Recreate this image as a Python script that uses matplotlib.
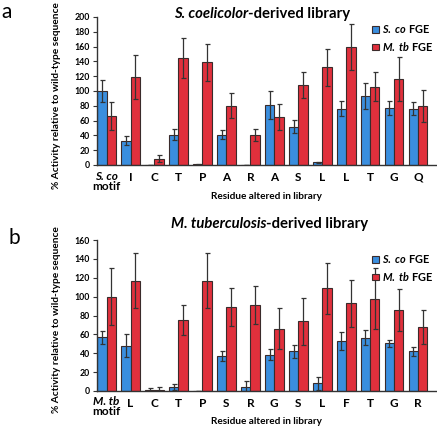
import matplotlib
matplotlib.use("Agg")
import matplotlib.pyplot as plt
import matplotlib.patches as mpatches
import numpy as np

plt.rcParams['font.family'] = ['Lato', 'DejaVu Sans']
plt.rcParams['font.weight'] = 'bold'
plt.rcParams['mathtext.fontset'] = 'custom'
plt.rcParams['mathtext.it'] = 'Lato:italic:bold'
plt.rcParams['mathtext.rm'] = 'Lato:bold'
plt.rcParams['mathtext.bf'] = 'Lato:bold'

# panel a: S. coelicolor-derived library
catsA = ["", "I", "C", "T", "P", "A", "R", "A", "S", "L", "L", "T", "G", "Q"]
scoA = [100, 33, 0.5, 41, 1, 41, 0.5, 81, 52, 3.5, 76, 93, 77, 76]
scoErrA = [15, 6, 0, 7, 1, 6, 0, 19, 9, 1, 10, 18, 9, 9]
mtbA = [66.5, 119, 8.5, 145, 139, 80, 40, 65, 108, 132, 159, 106, 116, 80]
mtbErrA = [19, 30, 5, 27, 25, 17, 8, 18, 17, 25, 31, 20, 30, 22]

# panel b: M. tuberculosis-derived library
catsB = ["", "L", "C", "T", "P", "S", "R", "G", "S", "L", "F", "T", "G", "R"]
scoB = [57, 48, 1, 4, 0, 37, 4, 38.5, 42, 8, 53, 56.5, 50.5, 42]
scoErrB = [7, 12, 2, 3, 0, 5, 7, 6, 7, 7, 10, 8, 3.5, 5]
mtbB = [100, 117, 1, 75, 117, 89, 91, 66, 74, 109, 93, 98, 86, 68]
mtbErrB = [30, 29, 3, 16, 29, 20, 20, 22, 25, 27, 25, 32, 22.5, 18]

blue = "#3a8ede"
red = "#e0303c"
edge = "#3a2b2b"

W, H = 437, 426
fig = plt.figure(figsize=(W / 100, H / 100), dpi=100)


def drawPanel(rect, cats, sco, scoErr, mtb, mtbErr, ymax, firstLabel, titleStart, titleRest,
              titleX, titleY, legXY, letter, letterXY, labOff, xlabY):
    ax = fig.add_axes([rect[0] / W, 1 - rect[3] / H, (rect[2] - rect[0]) / W, (rect[3] - rect[1]) / H])
    x = np.arange(len(cats))
    bw = 0.39
    ax.bar(x - bw / 2, sco, bw, color=blue, edgecolor=edge, linewidth=0.8,
           yerr=scoErr, error_kw=dict(ecolor="#333333", elinewidth=0.9, capsize=1.8, capthick=0.9))
    ax.bar(x + bw / 2, mtb, bw, color=red, edgecolor=edge, linewidth=0.8,
           yerr=mtbErr, error_kw=dict(ecolor="#333333", elinewidth=0.9, capsize=1.8, capthick=0.9))
    ax.set_xlim(-0.4, 13.75)
    ax.set_ylim(0, ymax)
    ax.set_yticks(np.arange(0, ymax + 1, 20))
    ax.tick_params(axis='y', labelsize=6.3, length=3, width=0.8, color="#333333", pad=2)
    ax.set_xticks(x)
    ax.set_xticklabels(cats)
    ax.tick_params(axis='x', labelsize=8.5, length=0, pad=5)
    for s in ["top", "right"]:
        ax.spines[s].set_visible(False)
    for s in ["left", "bottom"]:
        ax.spines[s].set_color("#333333")
        ax.spines[s].set_linewidth(1.0)
    for lab in ax.get_yticklabels():
        lab.set_fontweight('bold')

    # first category label on two lines
    tr = ax.get_xaxis_transform()
    ax.annotate(firstLabel, xy=(0, 0), xycoords=tr, xytext=(0, -labOff[0]), textcoords='offset points',
                ha='center', va='baseline', fontsize=8.5, style='italic', fontweight='bold',
                annotation_clip=False)
    ax.annotate("motif", xy=(0, 0), xycoords=tr, xytext=(0, -labOff[1]), textcoords='offset points',
                ha='center', va='baseline', fontsize=8.5, fontweight='bold', annotation_clip=False)

    ax.set_ylabel("% Activity relative to wild-type sequence", fontsize=7.3, fontweight='bold')
    ax.yaxis.set_label_coords(-0.105, 0.47)
    ax.set_xlabel("Residue altered in library", fontsize=7.2, fontweight='bold')
    ax.xaxis.set_label_coords(0.5, xlabY)

    t1 = fig.text(titleX / W, 1 - titleY / H, titleStart, fontsize=10.7, style='italic',
                  fontweight='bold', ha='left', va='baseline')
    ax.annotate(titleRest, xy=(1, 0), xycoords=t1, fontsize=10.7, fontweight='bold',
                ha='left', va='bottom', annotation_clip=False)

    handles = [mpatches.Patch(facecolor=blue, edgecolor=edge, linewidth=0.8),
               mpatches.Patch(facecolor=red, edgecolor=edge, linewidth=0.8)]
    ax.legend(handles, [r"$S.\ co$ FGE", r"$M.\ tb$ FGE"], loc='upper left',
              bbox_to_anchor=(legXY[0] / W, 1 - legXY[1] / H), bbox_transform=fig.transFigure,
              frameon=False, fontsize=7.8, handlelength=0.6, handleheight=0.6, handletextpad=0.35,
              labelspacing=0.45, borderaxespad=0, borderpad=0)

    fig.text(letterXY[0] / W, 1 - letterXY[1] / H, letter, fontsize=15, fontweight='normal',
             ha='left', va='baseline')
    return ax


drawPanel((97, 17, 436, 165), catsA, scoA, scoErrA, mtbA, mtbErrA, 200, "S. co",
          "S. coelicolor", "-derived library", 174, 18, (372, 23), "a", (1, 18), (10.8, 18), -0.185)
drawPanel((97, 240, 436, 391), catsB, scoB, scoErrB, mtbB, mtbErrB, 160, "M. tb",
          "M. tuberculosis", "-derived library", 171, 228, (372, 253), "b", (9, 244), (10.3, 17.5), -0.17)

fig.savefig("out.png", dpi=100)
